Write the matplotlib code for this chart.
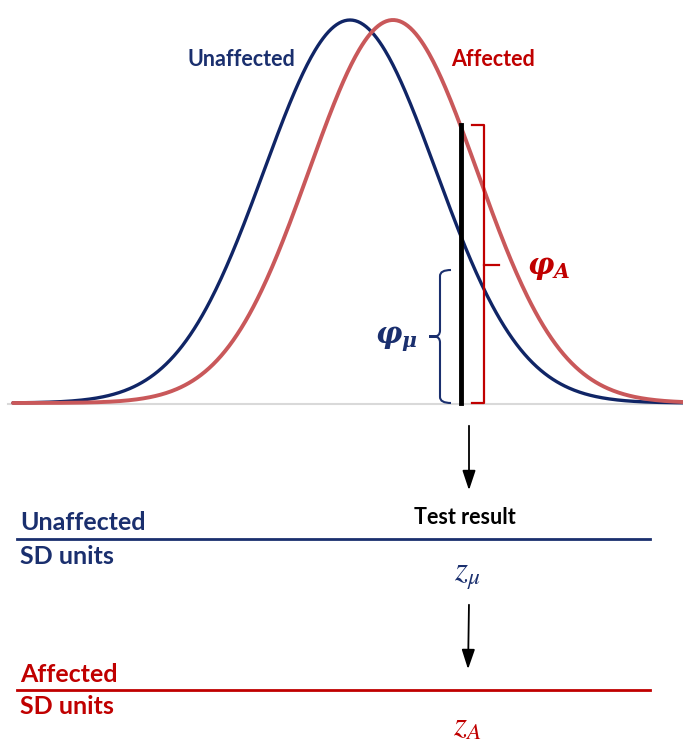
import matplotlib.pyplot as plt
import numpy as np
from matplotlib.path import Path
from matplotlib.patches import PathPatch

# distributions, in pixel-like units of the diagram
groups = ["Unaffected", "Affected"]
means = [350, 393]
sds = [86, 84]
curve_colors = ["#102566", "#C9585A"]
label_colors = ["#1A2F6E", "#C00000"]
peak_height = 383
baseline = 403
x_range = (13, 683)

test_result = 461
brace_top = 270          # top of the phi_mu brace
scale_rows = [539, 690]  # y of the two SD-unit scale lines
z_labels = [r"$z_\mu$", r"$z_A$"]


def curve(x, mean, sd):
    return baseline - peak_height * np.exp(-0.5 * ((x - mean) / sd) ** 2)


plt.rcParams["mathtext.fontset"] = "custom"
plt.rcParams["mathtext.it"] = "DejaVu Serif:italic:bold"
plt.rcParams["mathtext.rm"] = "DejaVu Serif:bold"

fig = plt.figure(figsize=(6.83, 7.46), dpi=100)
ax = fig.add_axes([0, 0, 1, 1])
ax.set_xlim(0, 683)
ax.set_ylim(746, 0)
ax.axis("off")

x = np.linspace(x_range[0], x_range[1], 500)
ax.plot([8, 683], [baseline + 1, baseline + 1], color="#D9D9D9", lw=1.5, zorder=1)
for m, s, c, lw in zip(means, sds, curve_colors, [2.4, 2.8]):
    ax.plot(x, curve(x, m, s), color=c, lw=lw, solid_capstyle="round", zorder=2)

ax.text(241, 59, groups[0], color=label_colors[0], fontsize=15.5, fontweight="bold",
        family="Lato", ha="center", va="center")
ax.text(493, 59, groups[1], color=label_colors[1], fontsize=15.5, fontweight="bold",
        family="Lato", ha="center", va="center")

# test result line and phi_A bracket
y_aff = curve(test_result, means[1], sds[1])
ax.plot([test_result, test_result], [y_aff - 2, baseline], color="black", lw=3.5, zorder=3)
bx = test_result + 23
ax.plot([bx - 12, bx, bx, bx - 12], [y_aff - 2, y_aff - 2, baseline, baseline],
        color="#C00000", lw=1.6, zorder=3)
mid_a = (y_aff + baseline) / 2
ax.plot([bx, bx + 15], [mid_a, mid_a], color="#C00000", lw=1.6, zorder=3)
ax.text(bx + 43, mid_a + 3, r"$\varphi_A$", color="#C00000", fontsize=21,
        ha="left", va="center", math_fontfamily="custom")

# phi_mu curly brace
cx = test_result - 21
mid_u = (brace_top + baseline) / 2
verts = [(cx + 11, brace_top), (cx, brace_top), (cx, brace_top + 6),
         (cx, mid_u - 6), (cx, mid_u), (cx - 6, mid_u), (cx - 11, mid_u),
         (cx - 6, mid_u), (cx, mid_u), (cx, mid_u + 6),
         (cx, baseline - 6), (cx, baseline), (cx + 11, baseline)]
codes = [Path.MOVETO, Path.CURVE3, Path.CURVE3, Path.LINETO, Path.CURVE3, Path.CURVE3,
         Path.LINETO, Path.LINETO, Path.CURVE3, Path.CURVE3, Path.LINETO,
         Path.CURVE3, Path.CURVE3]
ax.add_patch(PathPatch(Path(verts, codes), fill=False, edgecolor="#1A2F6E", lw=1.5,
                       zorder=3))
ax.text(cx - 22, mid_u + 3, r"$\varphi_\mu$", color="#1A2F6E", fontsize=21,
        ha="right", va="center", math_fontfamily="custom")

# arrows down to the SD scales
arrow_kw = dict(arrowstyle="-|>,head_width=0.4,head_length=1.2", color="black", lw=1.3)
ax.annotate("", xy=(469, 493), xytext=(469, 423), arrowprops=arrow_kw)
ax.annotate("", xy=(468, 672), xytext=(469, 602), arrowprops=arrow_kw)

ax.text(465, 518, "Test result", color="black", fontsize=15.5, fontweight="bold",
        family="Lato", ha="center", va="center")

for i, y in enumerate(scale_rows):
    c = label_colors[i]
    ax.plot([17, 650], [y, y], color=c, lw=2, zorder=2)
    ax.text(20, y - 16, groups[i], color=c, fontsize=18, fontweight="bold",
            family="Lato", ha="left", va="center")
    ax.text(20, y + 17, "SD units", color=c, fontsize=18, fontweight="bold",
            family="Lato", ha="left", va="center")
    ax.text(467, y + 36, z_labels[i], color=c, fontsize=24, ha="center",
            va="center", math_fontfamily="stix")

fig.savefig("out.png", dpi=100)
